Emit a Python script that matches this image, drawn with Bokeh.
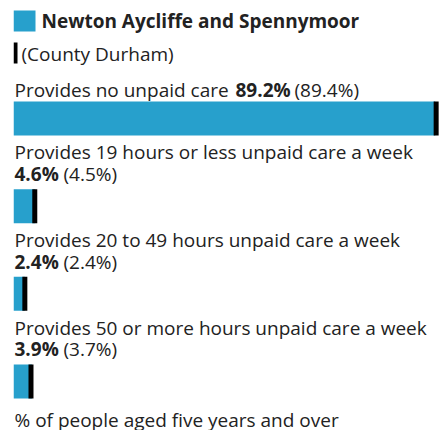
from bokeh.plotting import figure
from bokeh.models import Range1d, ColumnDataSource
from bokeh.embed import file_html
from bokeh.resources import INLINE
from bokeh.core.properties import value

# ---- data ----
area_name = "Newton Aycliffe and Spennymoor"
comparison_name = "(County Durham)"
categories = [
    "Provides no unpaid care",
    "Provides 19 hours or less unpaid care a week",
    "Provides 20 to 49 hours unpaid care a week",
    "Provides 50 or more hours unpaid care a week",
]
area_values = [89.2, 4.6, 2.4, 3.9]
comparison_values = [89.4, 4.5, 2.4, 3.7]
footnote = "% of people aged five years and over"

# ---- style / layout ----
BLUE = "#27a0cc"
TEXT = "#222222"
FONT = value("Open Sans")
FS = "19px"
W, H = 447, 430
PITCH = 87.67
BAR_TOP0 = 101
BAR_H = 34
DY = -7  # text baseline correction
X_END = 91.8

p = figure(width=W, height=H, output_backend="svg", toolbar_location=None,
           x_range=Range1d(0, X_END), y_range=Range1d(430, 0),
           x_axis_type=None, y_axis_type=None,
           min_border_left=13, min_border_right=0, min_border_top=0, min_border_bottom=0)
p.grid.visible = False
p.outline_line_color = None
p.background_fill_color = "white"
p.border_fill_color = "white"

pxu = 434 / X_END  # pixels per data unit on x

n = len(categories)
bar_tops = [BAR_TOP0 + i * PITCH for i in range(n)]
centers = [t + BAR_H / 2 for t in bar_tops]

src = ColumnDataSource(dict(y=centers, v=area_values, c=comparison_values))
p.hbar(y="y", left=0, right="v", height=BAR_H, source=src, fill_color=BLUE, line_color=None)
p.rect(x="c", y="y", width=5, width_units="screen", height=BAR_H, source=src,
       fill_color="black", line_color=None)


def label(y, txt, off, bold=False):
    p.text(x=[0], y=[y + DY], text=[txt], x_offset=off, text_font=FONT, text_font_size=FS,
           text_font_style="bold" if bold else "normal", text_color=TEXT,
           text_baseline="alphabetic")


# ---- legend ----
p.rect(x=[11 / pxu], y=[20.5], width=22, height=21, width_units="screen",
       fill_color=BLUE, line_color=None)
label(27.5, area_name, 28, bold=True)
p.rect(x=[2 / pxu], y=[52.5], width=4, height=21, width_units="screen",
       fill_color="black", line_color=None)
label(60, comparison_name, 8)

# ---- row labels ----
for i, cat in enumerate(categories):
    top = bar_tops[i]
    val = f"{area_values[i]:.1f}%"
    cmp_ = f"({comparison_values[i]:.1f}%)"
    if len(cat) < 30:
        y_lab = top - 5
        y_val = y_lab
        off_val = 222
        off_cmp = 281
    else:
        y_lab = top - 30
        y_val = top - 8.3
        off_val = 1
        off_cmp = 50
    label(y_lab, cat, 1)
    label(y_val, val, off_val, bold=True)
    label(y_val, cmp_, off_cmp)

label(426.5, footnote, 1)

open("out.html", "w").write(file_html(p, INLINE))
